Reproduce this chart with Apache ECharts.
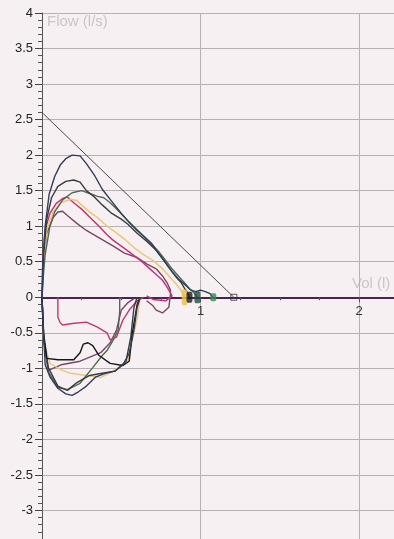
<!DOCTYPE html>
<html>
<head>
<meta charset="utf-8">
<script src="https://cdn.jsdelivr.net/npm/echarts@6/dist/echarts.min.js"></script>
<style>
  html, body { margin: 0; padding: 0; overflow: hidden; background: #f7f0f2; }
  #chart { width: 394px; height: 546px; }
</style>
</head>
<body>
<div id="chart"></div>
<script>
// Flow-volume loops: volume (l) on x, flow (l/s) on y.
// Expiratory limbs (flow > 0), each as [volume, flow] pairs.
const navyExp = [[0,0],[0.005,0.5],[0.02,1.0],[0.045,1.45],[0.08,1.7],[0.115,1.86],[0.15,1.95],[0.19,2.0],[0.24,1.99],[0.28,1.88],[0.33,1.72],[0.38,1.52],[0.44,1.35],[0.5,1.18],[0.555,1.04],[0.6,0.94],[0.65,0.84],[0.69,0.76],[0.74,0.6],[0.78,0.48],[0.82,0.36],[0.86,0.26],[0.9,0.18],[0.94,0.1],[0.97,0.08],[1.0,0.1],[1.03,0.08],[1.06,0.05],[1.08,0]];
const grayExp = [[0,0],[0.01,0.6],[0.03,1.1],[0.06,1.4],[0.1,1.56],[0.15,1.63],[0.2,1.65],[0.24,1.62],[0.28,1.5],[0.33,1.41],[0.38,1.3],[0.44,1.18],[0.5,1.1],[0.54,1.03],[0.6,0.9],[0.66,0.79],[0.72,0.66],[0.77,0.52],[0.8,0.42],[0.84,0.3],[0.88,0.2],[0.9,0.12],[0.92,0.06],[0.93,0]];
const greenExp = [[0,0],[0.01,0.35],[0.02,0.6],[0.05,1.0],[0.08,1.2],[0.13,1.37],[0.19,1.47],[0.25,1.5],[0.3,1.46],[0.35,1.42],[0.39,1.4],[0.43,1.33],[0.48,1.22],[0.54,1.08],[0.6,0.95],[0.67,0.8],[0.73,0.66],[0.78,0.52],[0.82,0.4],[0.86,0.3],[0.9,0.2],[0.93,0.12],[0.96,0.06],[0.98,0]];
const yellowExp = [[0,0],[0.01,0.5],[0.03,0.95],[0.07,1.2],[0.12,1.33],[0.18,1.38],[0.22,1.36],[0.26,1.28],[0.3,1.2],[0.35,1.12],[0.4,1.02],[0.46,0.92],[0.52,0.82],[0.58,0.7],[0.64,0.6],[0.7,0.52],[0.76,0.4],[0.8,0.3],[0.84,0.2],[0.87,0.12],[0.89,0.05],[0.9,0]];
const magentaExp = [[0,0],[0.005,0.5],[0.02,0.95],[0.05,1.18],[0.09,1.32],[0.13,1.39],[0.16,1.41],[0.2,1.33],[0.25,1.24],[0.3,1.13],[0.36,1.0],[0.41,0.88],[0.45,0.8],[0.5,0.72],[0.56,0.62],[0.62,0.52],[0.67,0.42],[0.72,0.32],[0.76,0.24],[0.79,0.14],[0.81,0.06],[0.82,0.02],[0.78,-0.05],[0.7,-0.03],[0.66,0.02]];
const purpleExp = [[0,0],[0.01,0.5],[0.03,0.9],[0.07,1.12],[0.1,1.2],[0.13,1.21],[0.16,1.15],[0.22,1.04],[0.28,0.94],[0.35,0.85],[0.45,0.72],[0.52,0.62],[0.6,0.56],[0.66,0.47],[0.72,0.4],[0.76,0.3],[0.79,0.2],[0.81,0.1],[0.81,0.04],[0.8,-0.14],[0.76,-0.22],[0.72,-0.18],[0.7,-0.12],[0.66,-0.05]];

// Inspiratory limbs (flow < 0).
const navyInsp = [[0,0],[0.01,-0.5],[0.02,-0.95],[0.05,-1.12],[0.1,-1.28],[0.15,-1.36],[0.19,-1.38],[0.23,-1.33],[0.28,-1.25],[0.34,-1.12],[0.4,-1.07],[0.46,-1.04],[0.51,-0.95],[0.55,-0.79],[0.58,-0.46],[0.6,-0.14],[0.62,0]];
const grayInsp = [[0,0],[0.01,-0.55],[0.04,-0.99],[0.1,-1.25],[0.16,-1.31],[0.22,-1.2],[0.3,-1.1],[0.38,-1.07],[0.46,-1.04],[0.53,-0.9],[0.56,-0.56],[0.58,-0.14],[0.6,0]];
const blackInsp = [[0,0],[0.01,-0.5],[0.03,-0.86],[0.1,-0.88],[0.2,-0.88],[0.24,-0.78],[0.26,-0.66],[0.29,-0.64],[0.32,-0.68],[0.36,-0.82],[0.43,-0.93],[0.51,-0.96],[0.55,-0.9],[0.57,-0.5],[0.6,-0.1],[0.62,0]];
const greenInsp = [[0,0],[0.01,-0.6],[0.04,-1.05],[0.1,-1.27],[0.16,-1.3],[0.24,-1.21],[0.32,-0.99],[0.38,-0.82],[0.41,-0.75],[0.45,-0.6],[0.48,-0.46],[0.49,-0.2],[0.49,0]];
const yellowInsp = [[0,0],[0.01,-0.6],[0.05,-0.93],[0.12,-1.02],[0.18,-1.07],[0.28,-1.1],[0.37,-1.13],[0.45,-1.04],[0.54,-0.9],[0.57,-0.6],[0.6,-0.3],[0.62,0]];
const magentaInsp = [[0.1,0],[0.1,-0.28],[0.115,-0.36],[0.13,-0.39],[0.19,-0.37],[0.28,-0.35],[0.35,-0.42],[0.41,-0.5],[0.43,-0.6],[0.47,-0.56],[0.51,-0.32],[0.55,-0.18],[0.6,-0.05],[0.64,0]];
const purpleInsp = [[0,0],[0.01,-0.6],[0.04,-1.03],[0.12,-0.95],[0.24,-0.9],[0.37,-0.78],[0.43,-0.64],[0.47,-0.46],[0.5,-0.18],[0.54,-0.08],[0.58,-0.02]];

// Predicted expiratory line and end-of-test markers.
const predicted = [[0,2.6],[1.21,0]];
const endMarks = [[0.9,0],[0.93,0],[0.98,0],[1.08,0]];
const endColors = ['#e8c24a','#1c1c1c','#1f4d45','#3c8a55'];
const endSizes = [[6,16],[6,11],[6,12],[6,8]];

// Axis ranges.
const volMin = 0, volMax = 2.22;
const flowMin = -3.5, flowMax = 4;

const C = {
  navy: '#2f3d5c', gray: '#3b3b3e', black: '#161616', green: '#4d6b4f',
  yellow: '#ecc97a', magenta: '#c23677', purple: '#7a4566'
};

function trace(data, color, width) {
  return { type: 'line', data: data, showSymbol: false, symbol: 'none',
    lineStyle: { color: color, width: width || 1.4 }, z: 3, silent: true };
}

const el = document.getElementById('chart');
const gridTop = 13, gridBottom = 0;
const plotH = el.clientHeight - gridTop - gridBottom;
// Lift the volume axis from the bottom of the grid up to flow = 0.
const zeroLift = plotH * (0 - flowMin) / (flowMax - flowMin);
const font = 'Liberation Sans, Arial, sans-serif';

const chart = echarts.init(el);
chart.setOption({
  backgroundColor: '#f7f0f2',
  animation: false,
  grid: { left: 42, right: 0, top: gridTop, bottom: gridBottom, containLabel: false },
  xAxis: {
    type: 'value', min: volMin, max: volMax, interval: 1, position: 'bottom', offset: -zeroLift,
    axisLine: { onZero: false, lineStyle: { color: '#4a2352', width: 2 } },
    axisTick: { show: true, inside: false, length: 5, lineStyle: { color: '#555' } },
    minorTick: { show: true, splitNumber: 4, length: 3, lineStyle: { color: '#555' } },
    axisLabel: { showMinLabel: false, showMaxLabel: false, color: '#333', fontSize: 13, margin: 8, fontFamily: font },
    splitLine: { show: true, lineStyle: { color: '#b8b0b3', width: 1 } }
  },
  yAxis: {
    type: 'value', min: flowMin, max: flowMax, interval: 0.5,
    axisLine: { show: true, onZero: false, lineStyle: { color: '#555', width: 1 } },
    axisTick: { show: true, inside: false, length: 7, lineStyle: { color: '#444' } },
    minorTick: { show: true, splitNumber: 5, length: 4, lineStyle: { color: '#555' } },
    axisLabel: { color: '#222', fontSize: 13, margin: 9, fontFamily: font, showMinLabel: false },
    splitLine: { show: true, lineStyle: { color: '#b8b0b3', width: 1 } }
  },
  graphic: [
    { type: 'text', left: 47, top: 14, silent: true,
      style: { text: 'Flow (l/s)', fill: '#cdc4c8', fontSize: 15, fontFamily: font } },
    { type: 'text', left: 352, top: 276, silent: true,
      style: { text: 'Vol (l)', fill: '#cdc4c8', fontSize: 15, fontFamily: font } }
  ],
  series: [
    trace(predicted, '#4a4a4e', 1),
    trace(purpleExp, C.purple), trace(purpleInsp, C.purple),
    trace(magentaExp, C.magenta, 1.5), trace(magentaInsp, C.magenta),
    trace(yellowExp, C.yellow, 1.6), trace(yellowInsp, C.yellow, 1.4),
    trace(greenExp, C.green), trace(greenInsp, C.green),
    trace(grayExp, C.gray), trace(grayInsp, C.gray),
    trace(blackInsp, C.black),
    trace(navyExp, C.navy), trace(navyInsp, C.navy),
    { type: 'scatter', data: endMarks, symbol: 'roundRect', z: 4, silent: true,
      symbolSize: function (v, p) { return endSizes[p.dataIndex]; },
      itemStyle: { color: function (p) { return endColors[p.dataIndex]; } } },
    { type: 'scatter', data: [predicted[1]], symbol: 'rect', symbolSize: 6, z: 4, silent: true,
      itemStyle: { color: 'rgba(0,0,0,0)', borderColor: '#333', borderWidth: 1 } }
  ]
});
</script>
</body>
</html>
